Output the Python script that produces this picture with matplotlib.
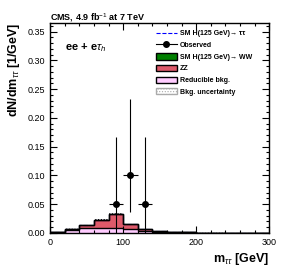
import numpy as np
import matplotlib.pyplot as plt
from matplotlib.patches import Patch
from matplotlib.lines import Line2D
from matplotlib.ticker import MultipleLocator

plt.rcParams["font.family"] = ["Liberation Sans", "DejaVu Sans"]
plt.rcParams["mathtext.fontset"] = "custom"
plt.rcParams["mathtext.rm"] = "Liberation Sans"
plt.rcParams["mathtext.it"] = "Liberation Sans:italic"
plt.rcParams["mathtext.bf"] = "Liberation Sans:bold"
plt.rcParams["hatch.color"] = "#888888"
plt.rcParams["hatch.linewidth"] = 0.5

# bin edges (GeV)
edges = np.arange(0, 320, 20)
# stacked contributions per bin [1/GeV]
reducible = [0.001, 0.005, 0.009, 0.008, 0.008, 0.006, 0.003, 0.002, 0.001, 0.0008,
             0.0005, 0.0005, 0.0003, 0.0002, 0.0001]
zz = [0.001, 0.002, 0.004, 0.014, 0.024, 0.009, 0.003, 0.001, 0.0005, 0.0002,
      0.0001, 0.0001, 0.0, 0.0, 0.0]
hww = [0.0, 0.0, 0.0, 0.0, 0.0, 0.0005, 0.0003, 0.0, 0.0, 0.0,
       0.0, 0.0, 0.0, 0.0, 0.0]
htt = [0.0, 0.0, 0.0, 0.0002, 0.0005, 0.0008, 0.0005, 0.0002, 0.0, 0.0,
       0.0, 0.0, 0.0, 0.0, 0.0]
bkg_unc = [0.0003, 0.0008, 0.0012, 0.002, 0.003, 0.0015, 0.0008, 0.0004, 0.0003, 0.0002,
           0.0001, 0.0001, 0.0001, 0.0001, 0.0001]

# observed data
obs_x = [90, 110, 130]
obs_y = [0.05, 0.10, 0.05]
obs_err_lo = [0.05, 0.063, 0.05]
obs_err_hi = [0.117, 0.133, 0.117]

fig = plt.figure(figsize=(2.83, 2.74), dpi=100)
ax = fig.add_axes([0.177, 0.150, 0.774, 0.766])

red = np.array(reducible)
zzv = red + np.array(zz)
wwv = zzv + np.array(hww)
unc = np.array(bkg_unc)

def step(vals):
    return np.append(vals, vals[-1])

ax.fill_between(edges, 0, step(wwv), step="post", color="#008000", lw=0)
ax.fill_between(edges, 0, step(zzv), step="post", color="#de5a6a", lw=0)
ax.fill_between(edges, 0, step(red), step="post", color="#ffccff", lw=0)
ax.stairs(wwv + np.array(htt), edges, color="blue", lw=0.8, ls="--")
ax.stairs(wwv, edges, color="black", lw=1.0)
ax.stairs(zzv, edges, color="black", lw=1.0)
ax.stairs(red, edges, color="black", lw=1.0)
ax.fill_between(edges, step(wwv - unc), step(wwv + unc), step="post",
                facecolor="none", hatch="......", lw=0)

ax.errorbar(obs_x, obs_y, yerr=[obs_err_lo, obs_err_hi], xerr=10, fmt="o",
            color="black", ms=4, lw=0.8, capsize=0)

ax.set_xlim(0, 300)
ax.set_ylim(0, 0.365)
ax.xaxis.set_major_locator(MultipleLocator(100))
ax.xaxis.set_minor_locator(MultipleLocator(20))
ax.yaxis.set_major_locator(MultipleLocator(0.05))
ax.yaxis.set_minor_locator(MultipleLocator(0.01))
ax.yaxis.set_major_formatter(plt.FuncFormatter(lambda v, p: f"{v:.2f}"))
ax.tick_params(which="both", direction="in", top=True, right=True, labelsize=6.5, width=0.8)
ax.tick_params(which="major", length=5)
ax.tick_params(which="minor", length=2.5)
for s in ax.spines.values():
    s.set_linewidth(1.0)

ax.set_ylabel(r"dN/dm$_{\tau\tau}$ [1/GeV]", fontsize=9, fontweight="bold", loc="top")
ax.set_xlabel(r"m$_{\tau\tau}$ [GeV]", fontsize=9, fontweight="bold", loc="right", labelpad=3)
fig.text(0.177, 0.925, r"CMS, 4.9 fb$^{-1}$ at 7 TeV", fontsize=6.5, fontweight="bold")
ax.text(0.07, 0.87, r"ee + e$\tau_{h}$", transform=ax.transAxes, fontsize=8, fontweight="bold")

handles = [
    Line2D([], [], color="blue", ls="--", lw=0.8),
    Line2D([], [], color="black", marker="o", ms=4, lw=0.8),
    Patch(facecolor="#008000", edgecolor="black"),
    Patch(facecolor="#de5a6a", edgecolor="black"),
    Patch(facecolor="#ffccff", edgecolor="black"),
    Patch(facecolor="white", edgecolor="#aaaaaa", hatch="......"),
]
labels = ["SM H(125 GeV)→ ττ", "Observed", "SM H(125 GeV)→ WW",
          "ZZ", "Reducible bkg.", "Bkg. uncertainty"]
leg = ax.legend(handles, labels, loc="upper left", bbox_to_anchor=(0.47, 0.98), frameon=False,
                fontsize=5, handlelength=3.0, handleheight=1.0, labelspacing=0.6,
                handletextpad=0.5, borderaxespad=0)
for t in leg.get_texts():
    t.set_fontweight("bold")

fig.savefig("out.png", dpi=100)
